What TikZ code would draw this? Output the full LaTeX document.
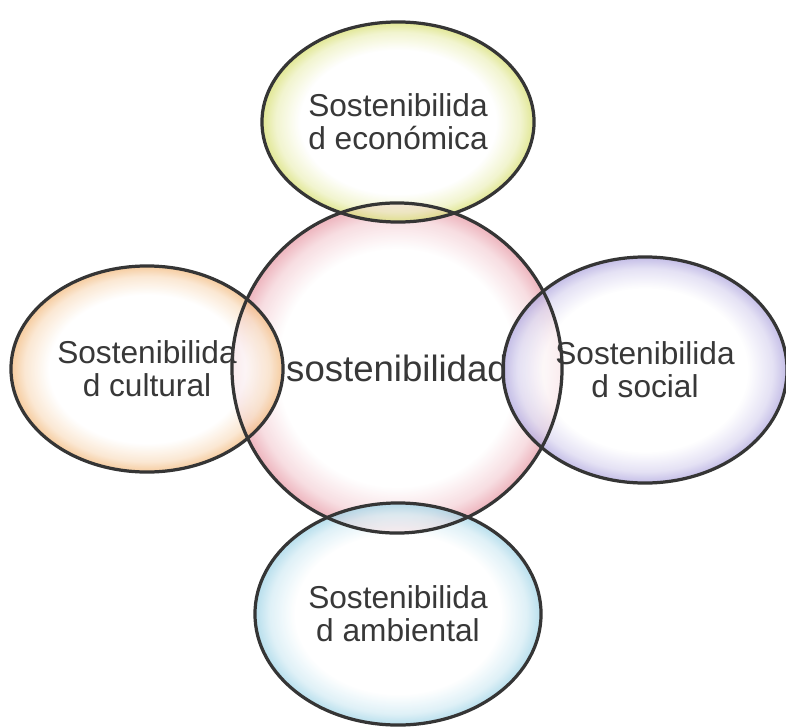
\documentclass[tikz,border=0pt]{standalone}
\usepackage{fontspec}
\setmainfont{Liberation Sans}
\usetikzlibrary{shapes.geometric,backgrounds}

\definecolor{rimgray}{HTML}{353535}
\definecolor{textgray}{HTML}{383838}
\definecolor{econcol}{HTML}{D6DE6E}
\definecolor{sostcol}{HTML}{E79AA6}
\definecolor{cultcol}{HTML}{F2B97C}
\definecolor{socicol}{HTML}{AFA6DE}
\definecolor{ambicol}{HTML}{9ED3E6}

\pgfdeclareradialshading[bubcol]{bubble}{\pgfpointorigin}{%
  color(0bp)=(white); color(18bp)=(white); color(22.5bp)=(bubcol!45!white);
  color(25bp)=(bubcol); color(50bp)=(bubcol)}

\begin{document}
\begin{tikzpicture}[
    x=0.025cm, y=0.025cm,
    sphere/.style={ellipse, draw=rimgray, line width=2.3pt, inner sep=0pt, align=center, text=textgray, font=\fontsize{22.5}{23.5}\selectfont},
    tint/.style={shading=bubble, fill opacity=0.75, /utils/exec={\colorlet{bubcol}{#1}}}
]
    \useasboundingbox (0,0) rectangle (786,726);

    % Spheres
    \node[sphere, minimum width=8.25cm, minimum height=8.25cm, font=\fontsize{26}{28}\selectfont] (sost) at (397,358) {sostenibilidad};
    \node[sphere, minimum width=6.8cm, minimum height=5cm] (econ) at (398,604) {Sostenibilida\\d económica};
    \node[sphere, minimum width=6.8cm, minimum height=5.15cm] (cult) at (147,357) {Sostenibilida\\d cultural};
    \node[sphere, minimum width=7.1cm, minimum height=5.65cm] (soci) at (645,356) {Sostenibilida\\d social};
    \node[sphere, minimum width=7.15cm, minimum height=5.55cm] (ambi) at (398,112) {Sostenibilida\\d ambiental};

    % Tints behind the outlines
    \begin{scope}[on background layer]
        \shade[tint=sostcol] (sost.center) circle [radius=4.125cm];
        \shade[tint=econcol] (econ.center) ellipse [x radius=3.4cm, y radius=2.5cm];
        \shade[tint=cultcol] (cult.center) ellipse [x radius=3.4cm, y radius=2.575cm];
        \shade[tint=socicol] (soci.center) ellipse [x radius=3.55cm, y radius=2.825cm];
        \shade[tint=ambicol] (ambi.center) ellipse [x radius=3.575cm, y radius=2.775cm];
    \end{scope}
\end{tikzpicture}
\end{document}
